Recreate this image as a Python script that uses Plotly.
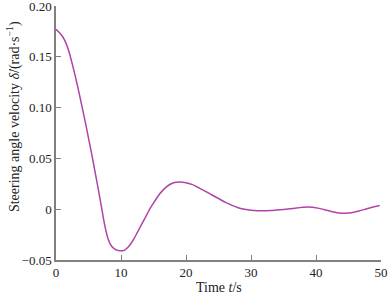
import plotly.graph_objects as go

time_s = [0, 0.5, 1.0, 1.5, 2.0, 2.5, 3.0, 3.5, 4.0, 4.5, 5.0, 5.5, 6.0, 6.5, 7.0, 7.5, 8.0, 8.5, 9.0, 9.5,
          10.0, 10.5, 11.0, 11.5, 12.0, 12.5, 13.0, 13.5, 14.0, 14.5, 15.0, 15.5, 16.0, 16.5, 17.0, 17.5,
          18.0, 18.5, 19.0, 19.5, 20.0, 21.0, 22.0, 23.0, 24.0, 25.0, 26.0, 27.0, 28.0, 29.0, 30.0, 31.0,
          32.0, 33.0, 34.0, 35.0, 36.0, 37.0, 38.0, 38.6, 39.5, 40.5, 41.5, 42.5, 43.5, 44.5, 45.5, 46.5,
          47.5, 48.5, 49.8]
steer_vel = [0.177, 0.174, 0.170, 0.164, 0.155, 0.143, 0.130, 0.116, 0.101, 0.086, 0.070, 0.054, 0.037,
             0.020, 0.002, -0.016, -0.029, -0.036, -0.039, -0.0405, -0.041, -0.0405, -0.038, -0.034,
             -0.029, -0.023, -0.017, -0.011, -0.005, 0.001, 0.006, 0.011, 0.0155, 0.019, 0.022, 0.0243,
             0.0258, 0.0266, 0.0268, 0.0266, 0.026, 0.0242, 0.021, 0.0175, 0.014, 0.0105, 0.007, 0.004,
             0.0015, 0.0, -0.001, -0.0015, -0.0016, -0.0013, -0.0008, -0.0003, 0.0004, 0.0012, 0.0019,
             0.0022, 0.0019, 0.0008, -0.0008, -0.0025, -0.0037, -0.0040, -0.0035, -0.002, -0.0002,
             0.0017, 0.0036]

x_ticks = [0, 10, 20, 30, 40, 50]
y_ticks = [-0.05, 0, 0.05, 0.10, 0.15, 0.20]
y_tick_labels = ["\u22120.05", "0", "0.05", "0.10", "0.15", "0.20"]

fig = go.Figure()
fig.add_trace(go.Scatter(x=time_s, y=steer_vel, mode="lines",
                         line=dict(color="#B043A8", width=1.5, shape="spline", smoothing=0.6),
                         showlegend=False))

font = dict(family="Liberation Serif, Times New Roman, serif", size=13, color="#222222")
axis_common = dict(showgrid=False, zeroline=False, showline=True, linecolor="#808080", linewidth=1.5,
                   ticks="inside", ticklen=5, tickcolor="#808080", tickwidth=1, tickfont=font,
                   automargin=False, ticklabeloverflow="allow")

fig.update_layout(
    width=389, height=298,
    margin=dict(l=56, r=8, t=6, b=38),
    paper_bgcolor="white", plot_bgcolor="white",
    font=font,
    xaxis=dict(range=[0, 50], tickvals=x_ticks, ticktext=[str(v) for v in x_ticks], **axis_common),
    yaxis=dict(range=[-0.05, 0.20], tickvals=y_ticks, ticktext=y_tick_labels, **axis_common),
    annotations=[
        dict(text="Time <i>t</i>/s", xref="paper", yref="paper", x=0.5, y=-0.11,
             xanchor="center", yanchor="middle", showarrow=False, font=dict(font, size=14)),
        dict(text="Steering angle velocity <i>\u03b4\u0307</i>/(rad\u00b7s<sup>\u22121</sup>)",
             xref="paper", yref="paper", x=-0.129, y=0.563, textangle=-90,
             xanchor="center", yanchor="middle", showarrow=False, font=dict(font, size=14)),
    ],
)

fig.write_html("out.html", config={"displayModeBar": False, "responsive": False},
               post_script="document.body.style.margin='0';document.body.style.overflow='hidden';")
